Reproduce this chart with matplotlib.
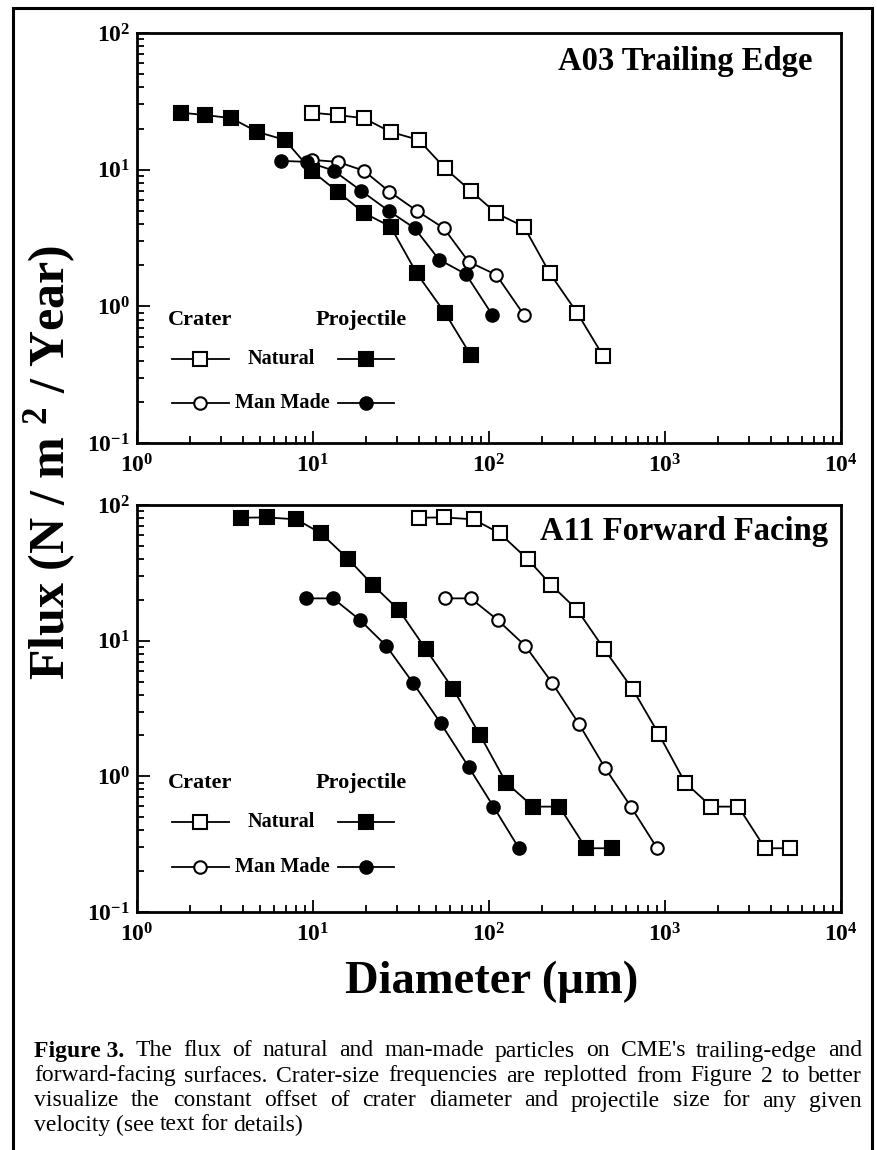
import numpy as np
import matplotlib
matplotlib.use("Agg")
import matplotlib.pyplot as plt
from matplotlib.patches import Rectangle

#------------------------------------ data ------------------------------------
# A03 trailing edge
a03_nat_proj_x = [1.78, 2.45, 3.44, 4.83, 6.92, 9.83, 13.8, 19.6, 27.6, 38.9, 56.4, 78.7]
a03_nat_proj_y = [26.1, 25.1, 23.8, 18.9, 16.5, 9.8, 6.9, 4.8, 3.83, 1.74, 0.89, 0.44]
a03_nat_crat_x = [9.83, 13.8, 19.4, 27.6, 39.9, 56.4, 78.7, 110, 158, 222, 318, 447]
a03_nat_crat_y = [26.1, 25.1, 23.8, 18.9, 16.5, 10.2, 7.0, 4.8, 3.83, 1.74, 0.89, 0.43]
a03_man_proj_x = [6.58, 9.3, 13.1, 18.8, 26.9, 37.8, 52.0, 73.9, 104.5]
a03_man_proj_y = [11.6, 11.4, 9.84, 7.0, 5.0, 3.73, 2.2, 1.72, 0.865]
a03_man_crat_x = [9.83, 13.8, 19.4, 27.2, 38.9, 55.4, 76.6, 110, 158]
a03_man_crat_y = [11.8, 11.4, 9.84, 6.9, 5.0, 3.73, 2.12, 1.70, 0.865]

# A11 forward facing
a11_nat_proj_x = [3.89, 5.47, 8.02, 11.1, 15.9, 21.9, 30.8, 43.8, 62.6, 88.7, 125, 178, 251, 356, 502]
a11_nat_proj_y = [80.6, 81.0, 78.4, 61.9, 39.8, 25.7, 16.8, 8.64, 4.39, 2.03, 0.90, 0.598, 0.598, 0.295, 0.295]
a11_nat_crat_x = [39.9, 55.4, 81.7, 115, 166, 226, 318, 452, 655, 922, 1300, 1835, 2610, 3703, 5153]
a11_nat_crat_y = [80.6, 81.0, 78.4, 61.9, 39.8, 25.7, 16.8, 8.64, 4.39, 2.05, 0.90, 0.598, 0.598, 0.295, 0.295]
a11_man_proj_x = [9.12, 13.0, 18.5, 26.1, 37.1, 53.2, 76.7, 106, 148]
a11_man_proj_y = [20.5, 20.5, 14.2, 9.14, 4.86, 2.46, 1.17, 0.598, 0.295]
a11_man_crat_x = [56.1, 78.7, 112, 161, 229, 324, 457, 640, 903]
a11_man_crat_y = [20.5, 20.5, 14.2, 9.14, 4.86, 2.44, 1.15, 0.598, 0.295]

decades = [1e-1, 1e0, 1e1, 1e2]
xdecades = [1e0, 1e1, 1e2, 1e3, 1e4]

caption = [
    [("Figure 3.", "bold"), ("The", "normal"), ("flux", "normal"), ("of", "normal"), ("natural", "normal"),
     ("and", "normal"), ("man-made", "normal"), ("particles", "normal"), ("on", "normal"),
     ("CME's", "normal"), ("trailing-edge", "normal"), ("and", "normal")],
    "forward-facing surfaces.  Crater-size frequencies are replotted from Figure 2 to better",
    "visualize the constant offset of crater diameter and projectile size for any given",
    "velocity (see text for details)",
]

#------------------------------------ style ------------------------------------
SERIF = "Liberation Serif"
plt.rcParams["font.family"] = [SERIF, "DejaVu Serif"]
plt.rcParams["mathtext.fontset"] = "custom"
plt.rcParams["mathtext.rm"] = SERIF
plt.rcParams["mathtext.bf"] = SERIF + ":bold"
plt.rcParams["mathtext.it"] = SERIF + ":italic"

W, H = 877, 1150
fig = plt.figure(figsize=(W / 100, H / 100), dpi=100)


def fx(px):
    return px / W


def fy(py):
    return 1 - py / H


def sup(e):
    return r"$\mathbf{10^{%d}}$" % e


def style_axes(ax, title, tx, ty):
    ax.set_xscale("log")
    ax.set_yscale("log")
    ax.set_xlim(1, 1e4)
    ax.set_ylim(0.1, 100)
    ax.set_xticks(xdecades)
    ax.set_xticklabels([sup(int(np.log10(v))) for v in xdecades], fontsize=17)
    ax.set_yticks(decades)
    ax.set_yticklabels([sup(int(np.log10(v))) for v in decades], fontsize=17)
    ax.tick_params(which="both", direction="in", top=False, right=False, width=1.3)
    ax.tick_params(which="major", length=9)
    ax.tick_params(axis="x", which="major", pad=8)
    ax.tick_params(axis="y", which="major", pad=5)
    ax.tick_params(which="minor", length=5)
    for s in ax.spines.values():
        s.set_linewidth(2.0)
    ax.text(tx, ty, title, transform=ax.transAxes, ha="right", va="center",
            fontsize=23.5, fontweight="bold")


def series(ax, x, y, marker, filled):
    ax.plot(x, y, color="black", lw=1.3, marker=marker, ms=9.5 if marker == "s" else 9,
            mfc="black" if filled else "white", mec="black", mew=1.5, zorder=3)


def legend_row(ax, xl, xm, xr, y, marker, filled):
    ax.plot([xl, xm, xr], [y, y, y], transform=ax.transAxes, color="black", lw=1.3,
            marker=marker, markevery=[1], ms=9.5 if marker == "s" else 9,
            mfc="black" if filled else "white", mec="black", mew=1.5, clip_on=False)


def legend(ax, ys):
    y0, y1, y2 = ys
    ax.text(0.044, y0, "Crater", transform=ax.transAxes, fontsize=16, fontweight="bold", va="center")
    ax.text(0.254, y0, "Projectile", transform=ax.transAxes, fontsize=16, fontweight="bold", va="center")
    legend_row(ax, 0.05, 0.09, 0.13, y1, "s", False)
    ax.text(0.205, y1, "Natural", transform=ax.transAxes, fontsize=14.5, fontweight="bold",
            ha="center", va="center")
    legend_row(ax, 0.285, 0.325, 0.365, y1, "s", True)
    legend_row(ax, 0.05, 0.09, 0.13, y2, "o", False)
    ax.text(0.207, y2, "Man Made", transform=ax.transAxes, fontsize=14.5, fontweight="bold",
            ha="center", va="center")
    legend_row(ax, 0.285, 0.325, 0.365, y2, "o", True)


#------------------------------------ panels ------------------------------------
left, right = fx(137), fx(841)
ax1 = fig.add_axes([left, fy(443), right - left, fy(33) - fy(443)])
ax2 = fig.add_axes([left, fy(912), right - left, fy(505) - fy(912)])

series(ax1, a03_nat_crat_x, a03_nat_crat_y, "s", False)
series(ax1, a03_man_crat_x, a03_man_crat_y, "o", False)
series(ax1, a03_man_proj_x, a03_man_proj_y, "o", True)
series(ax1, a03_nat_proj_x, a03_nat_proj_y, "s", True)
style_axes(ax1, "A03 Trailing Edge", 0.96, 0.93)
legend(ax1, (0.30, 0.205, 0.098))

series(ax2, a11_nat_crat_x, a11_nat_crat_y, "s", False)
series(ax2, a11_man_crat_x, a11_man_crat_y, "o", False)
series(ax2, a11_man_proj_x, a11_man_proj_y, "o", True)
series(ax2, a11_nat_proj_x, a11_nat_proj_y, "s", True)
style_axes(ax2, "A11 Forward Facing", 0.982, 0.934)
legend(ax2, (0.317, 0.221, 0.111))

# shared axis labels
fig.text(fx(50), fy(462), r"Flux (N / m $\mathbf{^{2}}$ / Year)", rotation=90, ha="center",
         va="center", fontsize=36, fontweight="bold")
fig.text(fx(492), fy(982), "Diameter (\u00b5m)", ha="center", va="center",
         fontsize=33.5, fontweight="bold")

# outer frame (bottom edge lies off the page)
fig.add_artist(Rectangle((fx(13), fy(1170)), fx(872) - fx(13), fy(8) - fy(1170),
                         transform=fig.transFigure, fill=False, lw=2.2, ec="black"))

#------------------------------------ justified caption ------------------------------------
renderer = fig.canvas.get_renderer()
cap_left, cap_right = 34, 862
line_y = [1051, 1076, 1101, 1125]
for i, line in enumerate(caption):
    if isinstance(line, str):
        words = [(w, "normal") for w in line.split()]
    else:
        words = line
    texts = []
    for w, wt in words:
        t = fig.text(0, fy(line_y[i]), w, fontsize=17, fontweight=wt, va="center", ha="left")
        texts.append(t)
    widths = [t.get_window_extent(renderer).width for t in texts]
    if i < len(caption) - 1:
        gap = (cap_right - cap_left - sum(widths)) / (len(words) - 1)
    else:
        gap = 5.5
    x = cap_left
    for t, w in zip(texts, widths):
        t.set_x(fx(x))
        x += w + gap

fig.savefig("out.png", dpi=100)
